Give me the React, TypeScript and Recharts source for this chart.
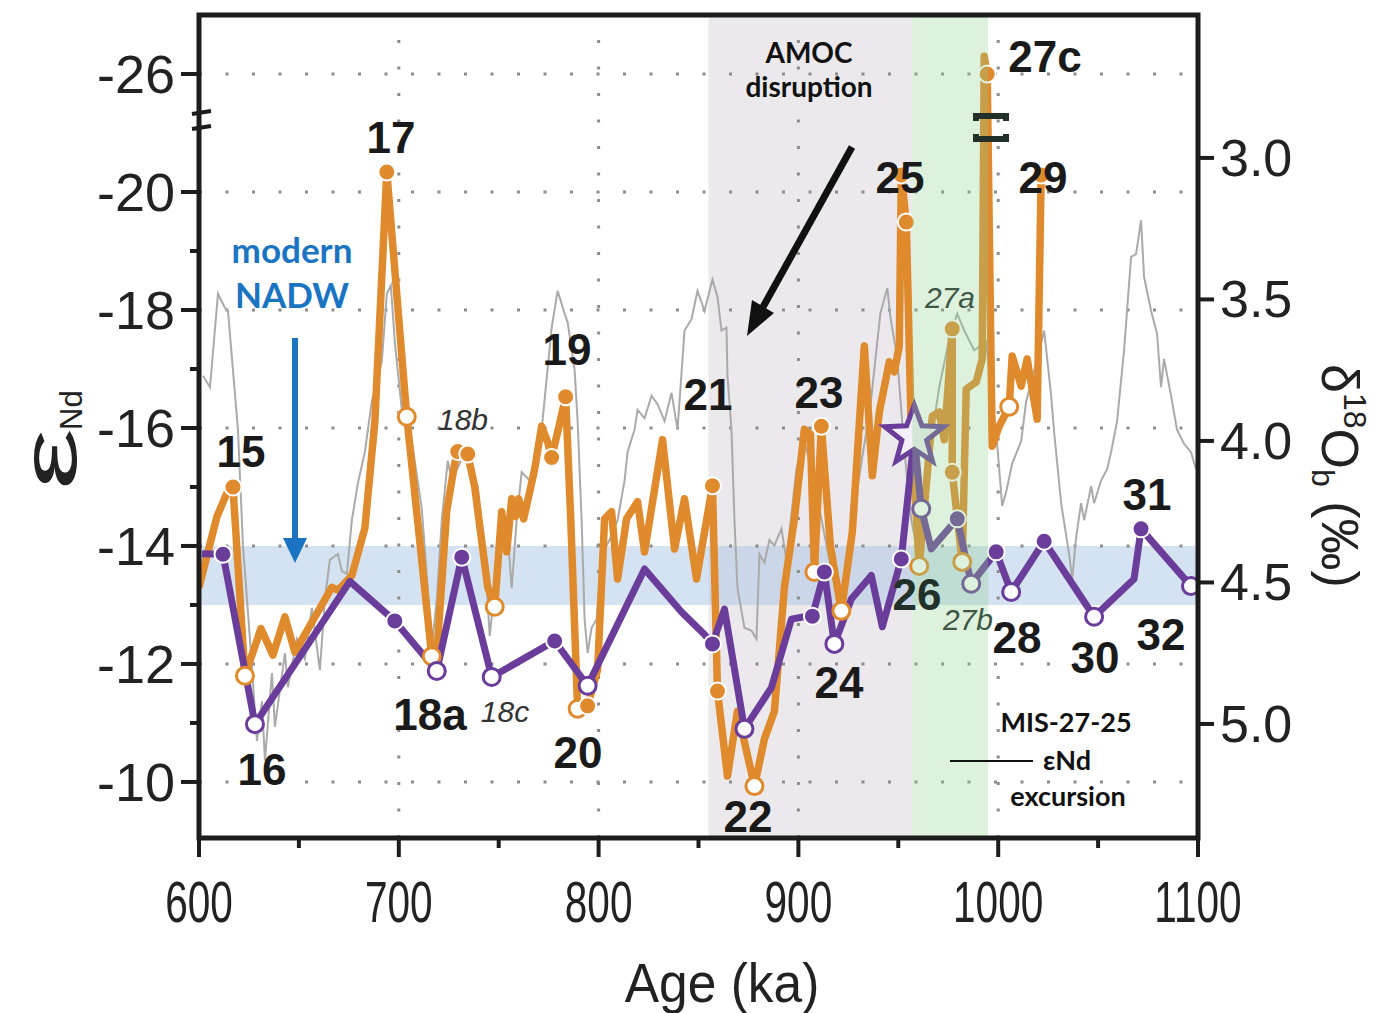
import React from 'react';
import { LineChart, Line, XAxis, YAxis, ReferenceArea, ReferenceLine } from 'recharts';

// ---- data (age in ka) ----
// marker: 'f' filled dot, 'o' open dot, 's' star, '' none
// eNd values above -20 are plotted on the broken part of the axis (-22 slot is labelled -26)
const orangeNd: [number, number, string][] = [
  [600, -13.3, ''], [609, -14.5, ''], [614, -14.9, ''], [617, -15.0, 'f'], [623, -11.8, 'o'],
  [631, -12.6, ''], [637, -12.15, ''], [643, -12.8, ''], [648, -12.2, ''], [653, -12.5, ''],
  [666.5, -13.3, ''], [669.5, -13.25, ''], [676.5, -13.5, ''], [683, -14.3, ''], [688, -16.1, ''],
  [694, -20.34, 'f'], [704, -16.19, 'o'], [716.5, -12.13, 'o'], [719.5, -12.4, ''], [724, -14.6, ''],
  [728, -15.4, ''], [729.5, -15.6, 'f'], [734.5, -15.56, 'f'], [738, -15.0, ''], [744.5, -13.3, ''],
  [748, -12.97, 'o'], [751.5, -14.58, ''], [754, -13.9, ''], [756.5, -14.8, ''], [758.5, -14.5, ''],
  [760, -14.8, ''], [762.5, -14.46, ''], [768, -15.3, ''], [771.5, -16.03, ''], [774.5, -15.76, ''],
  [776.5, -15.5, 'f'], [780, -16.0, ''], [783.5, -16.53, 'f'], [786, -14.5, ''], [789.5, -11.24, 'o'],
  [794.5, -11.29, 'f'], [799.5, -11.9, ''], [803, -14.46, ''], [806.5, -14.58, ''], [809.5, -13.44, ''],
  [814, -14.46, ''], [819.5, -14.75, ''], [823, -13.9, ''], [832, -15.8, ''], [838, -13.95, ''],
  [843, -14.8, ''], [849, -13.44, ''], [857, -15.02, 'f'], [859.5, -11.54, 'f'], [864.5, -10.1, ''],
  [869.5, -11.2, ''], [878, -9.93, 'o'], [883, -10.73, ''], [888, -11.2, ''], [893, -13.3, ''],
  [898, -14.46, ''], [903, -15.98, ''], [906, -15.9, ''], [908, -13.56, 'o'], [911.5, -16.03, 'f'],
  [916, -14.0, ''], [921.5, -12.9, 'o'], [927, -14.24, ''], [933, -17.39, ''], [937, -15.19, ''],
  [940.5, -16.27, ''], [945.5, -17.12, ''], [948, -16.95, ''], [950.5, -17.39, ''], [951.5, -20.29, 'f'],
  [954, -19.49, 'f'], [956.5, -15.93, ''], [960.5, -13.66, 'o'], [967, -16.2, ''], [970.5, -16.27, ''],
  [973, -15.8, ''], [977, -17.68, 'f'], [977, -15.25, 'f'], [982, -13.73, 'o'], [984, -16.66, ''],
  [989, -16.78, ''], [992, -17.17, ''], [993, -22.3, ''], [994.5, -22.0, 'f'], [997, -15.69, ''],
  [1000.5, -16.03, ''], [1005.5, -16.36, 'o'], [1007, -17.22, ''], [1011.5, -16.71, ''], [1014.5, -17.17, ''],
  [1019.5, -16.15, ''], [1021.5, -20.29, 'f'],
];

const purpleNd: [number, number, string][] = [
  [601.5, -13.87, ''], [612, -13.86, 'f'], [628, -10.98, 'o'], [675.5, -13.4, ''], [698, -12.73, 'f'],
  [719, -11.88, 'o'], [731.5, -13.81, 'f'], [746.5, -11.78, 'o'], [778, -12.39, 'f'], [794.5, -11.63, 'o'],
  [823, -13.61, ''], [841.5, -12.88, ''], [853, -12.5, ''], [857, -12.34, 'f'], [863, -12.93, ''],
  [873, -10.9, 'o'], [886.5, -11.6, ''], [896.5, -12.76, ''], [903, -12.8, ''], [907, -12.81, 'f'],
  [913, -13.56, 'f'], [918, -12.34, 'o'], [926.5, -13.1, ''], [936.5, -13.5, ''], [942, -12.63, ''],
  [951.5, -13.78, 'f'], [958, -15.86, 's'], [961.5, -14.63, 'o'], [966.5, -13.95, ''], [979.5, -14.46, 'f'],
  [986.5, -13.36, 'o'], [999, -13.9, 'f'], [1006.5, -13.22, 'o'], [1023, -14.08, 'f'], [1048, -12.8, 'o'],
  [1068, -13.44, ''], [1071.5, -14.29, 'f'], [1096.5, -13.32, 'o'],
];

// benthic d18O stack
const d18O: [number, number][] = [
  [602, 3.77], [605.5, 3.81], [609.5, 3.48], [613, 3.53], [614.5, 3.54], [619.5, 3.96], [622, 4.37],
  [625.5, 4.7], [629, 5.06], [631.5, 4.92], [633, 5.13], [636.5, 4.82], [638, 5.01], [643, 4.75],
  [644.5, 4.87], [649, 4.7], [653, 4.77], [656.5, 4.59], [660.5, 4.81], [663, 4.56], [665.5, 4.42],
  [669.5, 4.4], [671.5, 4.46], [674, 4.47], [676.5, 4.28], [679.5, 4.15], [683, 4.04], [686.5, 3.86],
  [691.5, 3.72], [694, 3.48], [696, 3.45], [698, 3.65], [701.5, 3.89], [704.5, 3.93], [706.5, 4.0],
  [711.5, 4.24], [714.5, 4.52], [716.5, 4.73], [719, 4.56], [721.5, 4.28], [724.5, 4.07], [726.5, 4.14],
  [730.5, 4.08], [733, 4.03], [735.5, 4.11], [739.5, 4.16], [743, 4.4], [745.5, 4.69], [748, 4.52],
  [749.5, 4.42], [754, 4.28], [756.5, 4.52], [759, 4.28], [761.5, 4.11], [765.5, 4.14], [769, 4.03],
  [771.5, 3.96], [774, 3.78], [776.5, 3.6], [779.5, 3.47], [783, 3.55], [784.5, 3.58], [788, 3.75],
  [789.5, 3.93], [791.5, 4.28], [793, 4.63], [794.5, 4.75], [796.5, 4.66], [799, 4.63], [801.5, 4.4],
  [805.5, 4.35], [809.5, 4.28], [813, 4.14], [814.5, 4.04], [818, 3.96], [819.5, 3.89], [823, 3.92],
  [826.5, 3.84], [829.5, 3.87], [833, 3.93], [836.5, 3.83], [839.5, 3.96], [843, 3.61], [846.5, 3.57],
  [849.5, 3.47], [853, 3.54], [857, 3.43], [859.5, 3.49], [861.5, 3.61], [864, 3.6], [864.5, 3.77],
  [866.5, 3.96], [868, 4.28], [869.5, 4.52], [873, 4.66], [876.5, 4.67], [879, 4.7], [880.5, 4.4],
  [883, 4.43], [885.5, 4.35], [888, 4.37], [891.5, 4.31], [894, 4.42], [899, 4.1], [903, 4.0],
  [906.5, 4.1], [910.5, 4.24], [915.5, 4.42], [919.5, 4.56], [923, 4.49], [927, 4.28], [931, 4.1],
  [936, 3.88], [941, 3.55], [944.5, 3.46], [946, 3.56], [949.5, 3.71], [953, 4.03], [956.5, 4.28],
  [960.5, 4.42], [964, 4.11], [967, 3.97], [970.5, 3.81], [975.5, 3.64], [979.5, 3.55], [983, 3.61],
  [988, 3.68], [994, 3.65], [997, 3.86], [999, 3.97], [1002, 4.23], [1004, 4.18], [1007, 4.08],
  [1011.5, 4.0], [1014, 3.86], [1017, 3.78], [1020.5, 3.68], [1023, 3.61], [1026.5, 3.84], [1028, 3.97],
  [1031.5, 4.22], [1035.5, 4.4], [1037, 4.49], [1039, 4.34], [1041.5, 4.22], [1043, 4.28], [1046.5, 4.16],
  [1048, 4.22], [1051.5, 4.14], [1054.5, 4.1], [1056.5, 4.04], [1059.5, 3.93], [1063, 3.68], [1066.5, 3.35],
  [1069, 3.34], [1071.5, 3.22], [1073, 3.42], [1076.5, 3.54], [1079.5, 3.62], [1081.5, 3.81], [1083, 3.71],
  [1086.5, 3.84], [1089.5, 3.96], [1093, 4.01], [1096.5, 4.04], [1099, 4.1],
];

const xTicks = [600, 650, 700, 750, 800, 850, 900, 950, 1000, 1050, 1100];
const leftTicks = [-22, -20, -19, -18, -17, -16, -15, -14, -13, -12, -11, -10];
const rightTicks = [3.0, 3.5, 4.0, 4.5, 5.0];
const vGrid = [700, 800, 900, 1000];
const hGrid = [-22, -20, -18, -16, -14, -12, -10];

const misLabels: [string, number, number][] = [
  ['15', 241, 467], ['16', 262, 785], ['17', 391, 153], ['18a', 430, 730], ['19', 567, 365],
  ['20', 578, 768], ['21', 708, 410], ['22', 748, 832], ['23', 819, 408], ['24', 839, 698],
  ['25', 900, 193], ['26', 917, 610], ['27c', 1045, 72], ['28', 1017, 653], ['29', 1043, 193],
  ['30', 1095, 673], ['31', 1147, 510], ['32', 1161, 650],
];
const subLabels: [string, number, number, string][] = [
  ['18b', 463, 430, '#333'], ['18c', 505, 722, '#333'], ['27a', 950, 308, '#3e5646'], ['27b', 968, 630, '#3e5646'],
];

const ORANGE = '#e08a2e';
const PURPLE = '#6b3d9b';
const FRAME = '#1c1c1c';
const SANS = '"Liberation Sans", Arial, Helvetica, sans-serif';
const CAL = 'Lato, "Open Sans", sans-serif';

const toRows = (arr: [number, number, string][]) => arr.map(([age, v, m]) => ({ age, v, m }));
const orangeRows = toRows(orangeNd);
const purpleRows = toRows(purpleNd);
const grayRows = d18O.map(([age, v]) => ({ age, v }));

function starPoints(cx: number, cy: number, R: number, r: number) {
  const pts: string[] = [];
  for (let i = 0; i < 10; i++) {
    const a = -Math.PI / 2 + (i * Math.PI) / 5;
    const rad = i % 2 === 0 ? R : r;
    pts.push(`${cx + rad * Math.cos(a)},${cy + rad * Math.sin(a)}`);
  }
  return pts.join(' ');
}

const makeDot = (color: string) => (props: any) => {
  const { cx, cy, payload, index } = props;
  const m = payload?.m;
  if (!m || cx == null || cy == null) return <g key={`e${index}`} />;
  if (m === 's') {
    return (
      <polygon key={`s${index}`} points={starPoints(cx, cy, 31, 13)} fill="#f3f1f7"
        stroke={color} strokeWidth={5} strokeLinejoin="miter" />
    );
  }
  const filled = m === 'f';
  return (
    <circle key={`c${index}`} cx={cx} cy={cy} r={8.5}
      fill={filled ? color : '#fff'} stroke={filled ? '#fff' : color} strokeWidth={filled ? 2 : 3} />
  );
};

const XTick = ({ x, y, payload }: any) => {
  const major = payload.value % 100 === 0;
  return (
    <g>
      <line x1={x} x2={x} y1={y} y2={y + (major ? 19 : 10)} stroke={FRAME} strokeWidth={4} />
      {major && (
        <text transform={`translate(${x},${y + 84}) scale(0.7,1)`} textAnchor="middle"
          fontSize={58} fontFamily={SANS} fill="#222">{payload.value}</text>
      )}
    </g>
  );
};

const LeftTick = ({ x, y, payload }: any) => {
  const v = payload.value;
  const major = v % 2 === 0;
  return (
    <g>
      <line x1={x} x2={x - (major ? 18 : 9)} y1={y} y2={y} stroke={FRAME} strokeWidth={4} />
      {major && (
        <text x={x - 24} y={y + 19} textAnchor="end" fontSize={54} fontFamily={SANS} fill="#222">
          {v === -22 ? '-26' : v}
        </text>
      )}
    </g>
  );
};

const RightTick = ({ x, y, payload }: any) => (
  <g>
    <line x1={x} x2={x + 16} y1={y} y2={y} stroke={FRAME} strokeWidth={4} />
    <text x={x + 22} y={y + 18} textAnchor="start" fontSize={52} fontFamily={SANS} fill="#222">
      {payload.value.toFixed(1)}
    </text>
  </g>
);

function Annotations() {
  return (
    <svg width={1382} height={1013} style={{ position: 'absolute', left: 0, top: 0, pointerEvents: 'none' }}>
      {misLabels.map(([t, x, y]) => (
        <text key={t} x={x} y={y} textAnchor="middle" fontSize={44} fontWeight="bold" fontFamily={SANS}
          fill={t === '26' ? '#22302a' : '#1a1a1a'}>{t}</text>
      ))}
      {subLabels.map(([t, x, y, c]) => (
        <text key={t} x={x} y={y} textAnchor="middle" fontSize={30} fontStyle="italic" fontFamily={SANS} fill={c}>{t}</text>
      ))}
      {/* modern NADW */}
      <text x={292} y={263} textAnchor="middle" fontSize={35} fontWeight="bold" fontFamily={CAL} fill="#1a74c2">modern</text>
      <text x={292} y={308} textAnchor="middle" fontSize={35} fontWeight="bold" fontFamily={CAL} fill="#1a74c2">NADW</text>
      <line x1={295} x2={295} y1={338} y2={542} stroke="#1a74c2" strokeWidth={6} />
      <polygon points="283,538 307,538 295,563" fill="#1a74c2" />
      {/* AMOC */}
      <text x={809} y={63} textAnchor="middle" fontSize={28} fontWeight="bold" fontFamily={CAL} fill="#111">AMOC</text>
      <text x={809} y={97} textAnchor="middle" fontSize={28} fontWeight="bold" fontFamily={CAL} fill="#111">disruption</text>
      <line x1={852} x2={763} y1={147} y2={307} stroke="#111" strokeWidth={7} />
      <polygon points="747,336 752,300 774,313" fill="#111" />
      {/* excursion note */}
      <text x={1066} y={732} textAnchor="middle" fontSize={27} fontWeight="bold" fontFamily={CAL} fill="#111">MIS-27-25</text>
      <text x={1043} y={770} textAnchor="start" fontSize={27} fontWeight="bold" fontFamily={CAL} fill="#111">εNd</text>
      <text x={1068} y={806} textAnchor="middle" fontSize={27} fontWeight="bold" fontFamily={CAL} fill="#111">excursion</text>
      <line x1={950} x2={1033} y1={761} y2={761} stroke="#111" strokeWidth={2} />
      {/* axis breaks */}
      <line x1={192} x2={211} y1={114} y2={111} stroke={FRAME} strokeWidth={4} />
      <line x1={192} x2={211} y1={129} y2={126} stroke={FRAME} strokeWidth={4} />
      <path d="M976,121 L976,116 L1006,116 L1006,121" fill="none" stroke="#23302a" strokeWidth={6} />
      <path d="M976,134 L976,139 L1006,139 L1006,134" fill="none" stroke="#23302a" strokeWidth={6} />
      {/* axis titles */}
      <text transform="translate(722,1002) scale(0.92,1)" textAnchor="middle" fontSize={56} fontFamily={SANS} fill="#222">Age (ka)</text>
      <text transform="translate(76,490) rotate(-90)" textAnchor="start" fontSize={78} fontFamily={SANS}
        fill="#222" textLength={62} lengthAdjust="spacingAndGlyphs">ε</text>
      <text transform="translate(82,430) rotate(-90)" textAnchor="start" fontSize={31} fontFamily={SANS} fill="#222">Nd</text>
      <text transform="translate(1322,364) rotate(90)" textAnchor="start" fontSize={52} fontFamily={SANS} fill="#222">
        δ<tspan fontSize={32} dy={-22}>18</tspan><tspan dy={22}>O</tspan><tspan fontSize={32} dy={10}>b</tspan><tspan dy={-10}> (‰)</tspan>
      </text>
    </svg>
  );
}

export default function App() {
  return (
    <div style={{ position: 'absolute', left: 0, top: 0, width: 1382, height: 1013, background: '#fff' }}>
      <LineChart width={1382} height={1013} margin={{ top: 15, right: 0, bottom: 0, left: 0 }}>
        <XAxis dataKey="age" type="number" domain={[600, 1100]} ticks={xTicks} interval={0}
          allowDataOverflow axisLine={false} tickLine={false} tickSize={0} tickMargin={0} height={175} tick={<XTick />} />
        <YAxis yAxisId="left" type="number" domain={[-23, -9.05]} reversed ticks={leftTicks} interval={0}
          allowDataOverflow axisLine={false} tickLine={false} tickSize={0} tickMargin={0} width={199} tick={<LeftTick />} />
        <YAxis yAxisId="right" orientation="right" type="number" domain={[2.495, 5.403]} reversed ticks={rightTicks}
          interval={0} allowDataOverflow axisLine={false} tickLine={false} tickSize={0} tickMargin={0} width={184} tick={<RightTick />} />

        <ReferenceArea yAxisId="left" x1={855} x2={957} y1={-23} y2={-9.05} fill="#ebe9ec" fillOpacity={1} stroke="none" zIndex={-60} />
        <ReferenceArea yAxisId="left" x1={600} x2={1100} y1={-14} y2={-13} fill="#abc5e3" fillOpacity={0.5} stroke="none" zIndex={-50} />
        {vGrid.map((v) => (
          <ReferenceLine key={`v${v}`} yAxisId="left" x={v} stroke="#8c8c8c" strokeWidth={3} strokeDasharray="3 23.5" zIndex={-40} />
        ))}
        {hGrid.map((v) => (
          <ReferenceLine key={`h${v}`} yAxisId="left" y={v} stroke="#8c8c8c" strokeWidth={3} strokeDasharray="3 23.5" zIndex={-40} />
        ))}

        <Line yAxisId="right" data={grayRows} dataKey="v" stroke="#aaaaaa" strokeWidth={2} dot={false}
          activeDot={false} isAnimationActive={false} zIndex={100} />
        <Line yAxisId="left" data={orangeRows} dataKey="v" stroke={ORANGE} strokeWidth={7.5} strokeLinejoin="round"
          dot={makeDot(ORANGE)} activeDot={false} isAnimationActive={false} zIndex={200} />
        <Line yAxisId="left" data={purpleRows} dataKey="v" stroke={PURPLE} strokeWidth={7} strokeLinejoin="round"
          dot={makeDot(PURPLE)} activeDot={false} isAnimationActive={false} zIndex={300} />

        <ReferenceArea yAxisId="left" x1={957} x2={995} y1={-23} y2={-9.05} fill="#8fd08a" fillOpacity={0.3} stroke="none" zIndex={900} />
        <ReferenceArea yAxisId="left" x1={600} x2={1100} y1={-23} y2={-9.05} fill="none" stroke={FRAME} strokeWidth={5} zIndex={1500} />
      </LineChart>
      <Annotations />
    </div>
  );
}
